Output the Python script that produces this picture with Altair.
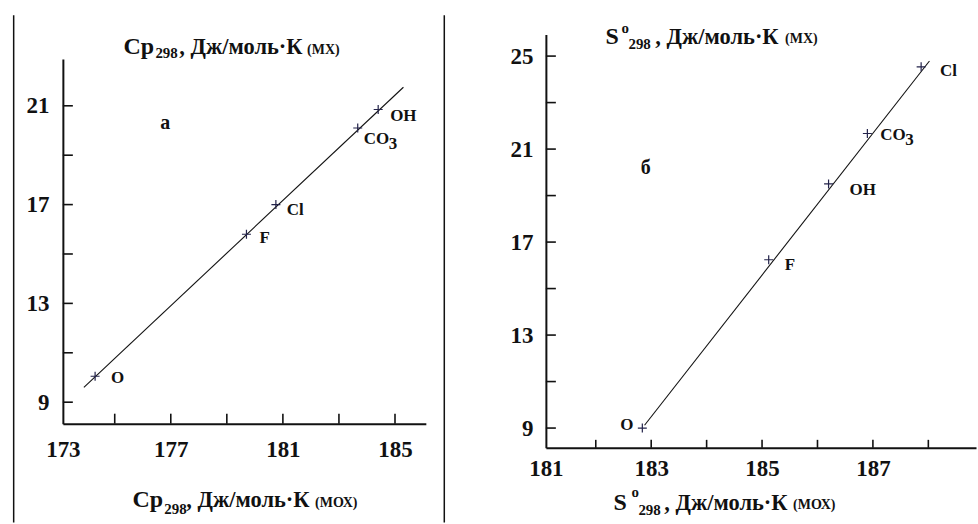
import altair as alt
import pandas as pd

SERIF = "Liberation Serif"
INK = "#111111"
CROSS = "#23234a"

# ---- panel "а": Cp298 of МХ against Cp298 of МОХ ----
cp_ions = ["O", "F", "Cl", "CO3", "OH"]
cp_mox = [174.3, 179.7, 180.75, 183.67, 184.4]
cp_mx = [10.05, 15.8, 17.0, 20.1, 20.85]
cp_fit_x = [173.9, 185.3]
cp_fit_y = [9.6, 21.75]
cp_xdomain = [173.15, 186.1]
cp_ydomain = [8.13, 22.89]
cp_xticks = [175, 177, 179, 181, 183, 185]
cp_xlabels = [173.15, 177, 181, 185]      # first label sits on the axis origin
cp_yticks = [9, 11, 13, 15, 17, 19, 21]
cp_ylabels = [9, 13, 17, 21]
cp_letter = {"text": "а", "x": 176.8, "y": 20.3}

# ---- panel "б": S298 of МХ against S298 of МОХ ----
s_ions = ["O", "F", "OH", "CO3", "Cl"]
s_mox = [182.84, 185.12, 186.2, 186.9, 187.87]
s_mx = [9.0, 16.24, 19.5, 21.67, 24.54]
s_fit_x = [182.88, 188.02]
s_fit_y = [9.12, 24.79]
s_xdomain = [181.1, 188.86]
s_ydomain = [8.15, 25.93]
s_xticks = [182, 183, 184, 185, 186, 187, 188]
s_xlabels = [181.1, 183, 185, 187]
s_yticks = [9, 11, 13, 15, 17, 19, 21, 23, 25]
s_ylabels = [9, 13, 17, 21, 25]
s_letter = {"text": "б", "x": 182.9, "y": 20.2}

# label placement next to each cross (pixel offsets)
cp_label_offsets = {"O": (16, 2), "F": (13, 4), "Cl": (11, 5), "CO3": (6, 11), "OH": (12, 7)}
s_label_offsets = {"O": (-22, -3), "F": (16, 5), "OH": (21, 6), "CO3": (13, 2), "Cl": (19, 4)}

PLUS = "M-1,0L1,0M0,-1L0,1"
ONE = alt.Data(values=[{}])
UNIT = ", Дж/моль·К"


def note(text, x, y, size):
    return alt.Chart(ONE).mark_text(
        text=text, font=SERIF, fontWeight="bold", fontSize=size,
        align="left", baseline="alphabetic", color=INK,
    ).encode(x=alt.value(x), y=alt.value(y))


def vline(x, y1, y2, width=1.5):
    return alt.Chart(ONE).mark_rule(color=INK, strokeWidth=width).encode(
        x=alt.value(x), x2=alt.value(x), y=alt.value(y1), y2=alt.value(y2)
    )


def frame(x1, y1, x2, y2):
    # invisible diagonal that fixes the extent of a panel's cell
    return alt.Chart(ONE).mark_rule(opacity=0, strokeWidth=0).encode(
        x=alt.value(x1), x2=alt.value(x2), y=alt.value(y1), y2=alt.value(y2)
    )


def panel(ions, xs, ys, fit_x, fit_y, xdom, ydom, xticks, xlabels, yticks, ylabels,
          letter, offsets, width, height, yrange, tick_len, lab_size, xpad, ypad, extras):
    X = alt.X(
        "x:Q",
        scale=alt.Scale(domain=xdom, nice=False, zero=False),
        axis=alt.Axis(
            values=xlabels, labelExpr="format(round(datum.value), 'd')",
            ticks=False, grid=False, domainWidth=2, domainColor=INK,
            labelFont=SERIF, labelFontWeight="bold", labelFontSize=lab_size,
            labelColor=INK, labelPadding=xpad, labelFlush=False,
            labelOverlap=False, title=None,
        ),
    )
    Y = alt.Y(
        "y:Q",
        scale=alt.Scale(domain=ydom, range=yrange, nice=False, zero=False),
        axis=alt.Axis(
            values=ylabels, ticks=False, grid=False, domainWidth=2, domainColor=INK,
            labelFont=SERIF, labelFontWeight="bold", labelFontSize=lab_size,
            labelColor=INK, labelPadding=ypad, labelFlush=False,
            labelOverlap=False, title=None,
        ),
    )

    pts = pd.DataFrame({"ion": ions, "x": xs, "y": ys})
    pts["main"] = pts["ion"].str.rstrip("0123456789")
    pts["sub"] = [i[len(m):] for i, m in zip(pts["ion"], pts["main"])]
    fit = pd.DataFrame({"x": fit_x, "y": fit_y})

    fit_line = alt.Chart(fit).mark_line(color=INK, strokeWidth=1.1).encode(x=X, y=Y)
    crosses = alt.Chart(pts).mark_point(
        shape=PLUS, size=81, filled=False, strokeWidth=1.2, color=CROSS, opacity=1
    ).encode(x=X, y=Y)

    xt = alt.Chart(pd.DataFrame({"x": xticks})).mark_rule(color=INK, strokeWidth=1.6).encode(
        x=X, y=alt.value(height), y2=alt.value(height - tick_len[0])
    )
    yt = alt.Chart(pd.DataFrame({"y": yticks})).mark_rule(color=INK, strokeWidth=1.6).encode(
        y=Y, x=alt.value(0), x2=alt.value(tick_len[1])
    )

    letter_mark = alt.Chart(pd.DataFrame([letter])).mark_text(
        font=SERIF, fontWeight="bold", fontSize=20, color=INK
    ).encode(x=X, y=Y, text="text:N")

    layers = [fit_line, crosses, xt, yt, letter_mark]
    for ion, (dx, dy) in offsets.items():
        base = alt.Chart(pts).transform_filter(alt.datum.ion == ion)
        layers.append(
            base.mark_text(
                font=SERIF, fontWeight="bold", fontSize=17, color=INK,
                align="left", baseline="middle", dx=dx, dy=dy,
            ).encode(x=X, y=Y, text="main:N")
        )
        sub = pts.loc[pts["ion"] == ion, "sub"].iloc[0]
        if sub:
            layers.append(
                base.mark_text(
                    font=SERIF, fontWeight="bold", fontSize=17, color=INK,
                    align="left", baseline="middle", dx=dx + 25, dy=dy + 5,
                ).encode(x=X, y=Y, text="sub:N")
            )
    layers += extras
    return alt.layer(*layers).properties(width=width, height=height)


# left cell: group origin at (62.3, 33.3) on the page, plot frame starts 24.7 lower
left_extras = [
    note("Cp", 60.7, 19.7, 24), note("298", 92.7, 23.7, 15),
    note(UNIT, 116.7, 19.7, 22.5), note("(МХ)", 244.7, 19.7, 14),
    note("Cp", 69.7, 473.7, 24), note("298", 101.7, 480.7, 15),
    note(UNIT, 123.7, 473.7, 22.5), note("(МОХ)", 252.7, 473.7, 14),
    vline(-49.3, -19.3, 489), vline(382.2, -19.3, 489),
    frame(-62.3, -33.3, 383.7, 490.7),
]
left = panel(cp_ions, cp_mox, cp_mx, cp_fit_x, cp_fit_y, cp_xdomain, cp_ydomain,
             cp_xticks, cp_xlabels, cp_yticks, cp_ylabels, cp_letter, cp_label_offsets,
             363.7, 390, [390, 24.7], (10, 10), 23, 15, 14, left_extras)

# right cell: plot origin at (545.3, 33.3) on the page
right_extras = [
    note("S", 59.7, 9.7, 24), note("o", 75.7, -1.3, 15), note("298", 82.7, 14.7, 15),
    note(UNIT, 109.7, 9.7, 22.5), note("(МХ)", 239.7, 8.7, 14),
    note("S", 67.7, 476.7, 24), note("o", 85.7, 463.7, 15), note("298", 92.7, 481.7, 15),
    note(UNIT, 118.7, 476.7, 22.5), note("(МОХ)", 247.7, 475.7, 14),
    frame(-99.3, -33.3, 432.7, 490.7),
]
right = panel(s_ions, s_mox, s_mx, s_fit_x, s_fit_y, s_xdomain, s_ydomain,
              s_xticks, s_xlabels, s_yticks, s_ylabels, s_letter, s_label_offsets,
              431, 414.2, [414.2, 0], (8, 10), 23, 10, 13, right_extras)

chart = alt.hconcat(left, right, spacing=0, padding=0, background="white").configure_view(
    stroke=None
)

chart.save("out.html", embed_options={"renderer": "svg", "actions": False})
